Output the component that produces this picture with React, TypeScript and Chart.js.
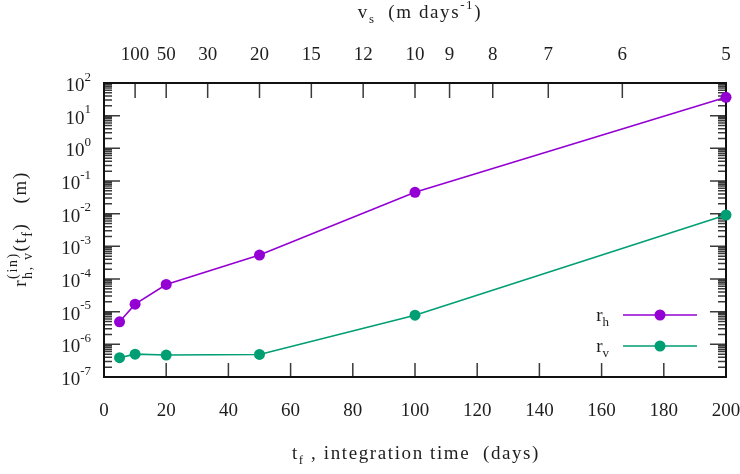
import React, { useEffect, useRef } from "react";
import { Chart, registerables } from "chart.js";
Chart.register(...registerables);

// ---- data ----
const tDays = [5, 10, 20, 50, 100, 200];
const rH = [4.9e-6, 1.7e-5, 6.8e-5, 5.4e-4, 4.5e-2, 36.5];
const rV = [3.9e-7, 5.0e-7, 4.7e-7, 4.9e-7, 7.8e-6, 9.1e-3];
const seriesSubs = ["h", "v"];
const xMin = 0;
const xMax = 200;
const xStep = 20;
const vsTicks = [100, 50, 30, 20, 15, 12, 10, 9, 8, 7, 6, 5];
const yExponents = [-7, -6, -5, -4, -3, -2, -1, 0, 1, 2];
const VS_TIMES_T = 1000; // v_s * t_f (m)

const PURPLE = "#9400d3";
const GREEN = "#009e73";
const FONT = '"Liberation Serif", serif';
const TEXT = "#1e1e1e";
const FS = 19;

type Seg = { t?: string; sup?: string; sub?: string };

function drawRich(
  ctx: CanvasRenderingContext2D,
  segs: Seg[],
  x: number,
  baseline: number,
  size: number,
  align: "left" | "center" | "right",
  spacing = 0,
  supOff = 0.45,
  subOff = 0.25,
  smallRatio = 0.7
) {
  const small = Math.round(size * smallRatio);
  (ctx as any).letterSpacing = `${spacing}px`;
  const widths = segs.map((s) => {
    if (s.t !== undefined) {
      ctx.font = `${size}px ${FONT}`;
      return ctx.measureText(s.t).width;
    }
    ctx.font = `${small}px ${FONT}`;
    return Math.max(
      s.sup ? ctx.measureText(s.sup).width : 0,
      s.sub ? ctx.measureText(s.sub).width : 0
    );
  });
  const total = widths.reduce((a, b) => a + b, 0);
  let cx = align === "center" ? x - total / 2 : align === "right" ? x - total : x;
  ctx.textAlign = "left";
  ctx.textBaseline = "alphabetic";
  ctx.fillStyle = TEXT;
  segs.forEach((s, i) => {
    if (s.t !== undefined) {
      ctx.font = `${size}px ${FONT}`;
      ctx.fillText(s.t, cx, baseline);
    } else {
      ctx.font = `${small}px ${FONT}`;
      if (s.sup) ctx.fillText(s.sup, cx, baseline - size * supOff);
      if (s.sub) ctx.fillText(s.sub, cx, baseline + size * subOff);
    }
    cx += widths[i];
  });
  (ctx as any).letterSpacing = "0px";
}

const framePlugin = {
  id: "frameTicks",
  beforeDatasetsDraw(chart: any) {
    const { ctx, chartArea: ca } = chart;
    const ys = chart.scales.y;
    const xs = chart.scales.x;
    const x2 = chart.scales.x2;
    ctx.save();
    ctx.strokeStyle = "#3a3a3a";
    ctx.lineWidth = 1.5;
    ctx.beginPath();
    // y ticks (left and right, inward)
    for (let e = yExponents[0]; e < yExponents[yExponents.length - 1]; e++) {
      for (let m = 1; m <= 9; m++) {
        const py = ys.getPixelForValue(m * Math.pow(10, e));
        const len = m === 1 ? 16 : 8;
        ctx.moveTo(ca.left, py);
        ctx.lineTo(ca.left + len, py);
        ctx.moveTo(ca.right, py);
        ctx.lineTo(ca.right - len, py);
      }
    }
    // bottom ticks
    xs.ticks.forEach((t: any) => {
      const px = xs.getPixelForValue(t.value);
      ctx.moveTo(px, ca.bottom);
      ctx.lineTo(px, ca.bottom - 14);
    });
    // top ticks
    x2.ticks.forEach((t: any) => {
      const px = x2.getPixelForValue(t.value);
      ctx.moveTo(px, ca.top);
      ctx.lineTo(px, ca.top + 15);
    });
    ctx.stroke();
    ctx.strokeStyle = "#111";
    ctx.lineWidth = 2;
    ctx.strokeRect(ca.left, ca.top, ca.right - ca.left, ca.bottom - ca.top);
    ctx.restore();
  },
  afterDraw(chart: any) {
    const { ctx, chartArea: ca } = chart;
    const ys = chart.scales.y;
    ctx.save();
    // y tick labels 10^n
    yExponents.forEach((e) => {
      const py = ys.getPixelForValue(Math.pow(10, e));
      drawRich(ctx, [{ t: "10" }, { sup: String(e) }], ca.left - 13, py + 8, FS, "right", 0, 0.55);
    });
    // top title
    drawRich(
      ctx,
      [{ t: "v" }, { sub: "s" }, { t: "  (m days" }, { sup: "-1" }, { t: ")" }],
      420,
      18,
      FS,
      "center",
      1.6
    );
    // bottom title
    drawRich(
      ctx,
      [{ t: "t" }, { sub: "f" }, { t: " , integration time  (days)" }],
      416,
      459,
      FS,
      "center",
      1.6
    );
    // y title (rotated)
    ctx.save();
    ctx.translate(26, 229);
    ctx.rotate(-Math.PI / 2);
    drawRich(
      ctx,
      [{ t: "r" }, { sup: "(in)", sub: "h, v" }, { t: "(t" }, { sub: "f" }, { t: ")   (m)" }],
      0,
      0,
      FS,
      "center",
      1.6,
      0.5,
      0.3,
      0.72
    );
    ctx.restore();
    // legend
    const legendRows = [
      { sub: seriesSubs[0], color: PURPLE, y: 315 },
      { sub: seriesSubs[1], color: GREEN, y: 346 },
    ];
    legendRows.forEach((r) => {
      drawRich(ctx, [{ t: "r" }, { sub: r.sub }], 609, r.y + 6, FS, "right");
      ctx.strokeStyle = r.color;
      ctx.lineWidth = 1.6;
      ctx.beginPath();
      ctx.moveTo(623, r.y);
      ctx.lineTo(697, r.y);
      ctx.stroke();
      ctx.fillStyle = r.color;
      ctx.beginPath();
      ctx.arc(660, r.y, 5.5, 0, Math.PI * 2);
      ctx.fill();
    });
    ctx.restore();
  },
};

export default function App() {
  const ref = useRef<HTMLCanvasElement>(null);
  useEffect(() => {
    document.body.style.margin = "0";
    const canvas = ref.current!;
    const mk = (vals: number[], color: string) => ({
      data: tDays.map((t, i) => ({ x: t, y: vals[i] })),
      borderColor: color,
      backgroundColor: color,
      borderWidth: 1.6,
      pointRadius: 5.5,
      pointHoverRadius: 5.5,
      pointBorderWidth: 0,
      clip: false as any,
      tension: 0,
    });
    const zeroPad = (s: any) => {
      s.paddingLeft = 0;
      s.paddingRight = 0;
    };
    const chart = new Chart(canvas, {
      type: "line",
      data: {
        datasets: [
          { label: "r_h", ...mk(rH, PURPLE) },
          { label: "r_v", ...mk(rV, GREEN) },
        ],
      },
      options: {
        animation: false,
        responsive: false,
        devicePixelRatio: 1,
        layout: { padding: { left: 0, right: 14, top: 0, bottom: 0 } },
        plugins: { legend: { display: false }, tooltip: { enabled: false } },
        scales: {
          x: {
            type: "linear",
            position: "bottom",
            min: xMin,
            max: xMax,
            ticks: {
              stepSize: xStep,
              maxRotation: 0,
              autoSkip: false,
              padding: 23,
              color: TEXT,
              font: { family: FONT, size: FS },
            },
            grid: { display: false, drawTicks: false },
            border: { display: false },
            afterFit: (s: any) => {
              s.height = 97;
              zeroPad(s);
            },
          },
          x2: {
            type: "linear",
            position: "top",
            min: xMin,
            max: xMax,
            afterBuildTicks: (s: any) => {
              s.ticks = vsTicks.map((v) => ({ value: VS_TIMES_T / v }));
            },
            ticks: {
              maxRotation: 0,
              autoSkip: false,
              padding: 17,
              color: TEXT,
              font: { family: FONT, size: FS },
              callback: (_v: any, i: number) => String(vsTicks[i]),
            },
            grid: { display: false, drawTicks: false },
            border: { display: false },
            afterFit: (s: any) => {
              s.height = 83;
              zeroPad(s);
            },
          },
          y: {
            type: "logarithmic",
            min: Math.pow(10, yExponents[0]),
            max: Math.pow(10, yExponents[yExponents.length - 1]),
            ticks: { display: false },
            grid: { display: false, drawTicks: false },
            border: { display: false },
            afterFit: (s: any) => {
              s.width = 104;
              s.paddingTop = 0;
              s.paddingBottom = 0;
            },
          },
        },
      },
      plugins: [framePlugin],
    });
    return () => chart.destroy();
  }, []);
  return (
    <div style={{ width: 740, height: 474 }}>
      <canvas ref={ref} width={740} height={474} />
    </div>
  );
}
